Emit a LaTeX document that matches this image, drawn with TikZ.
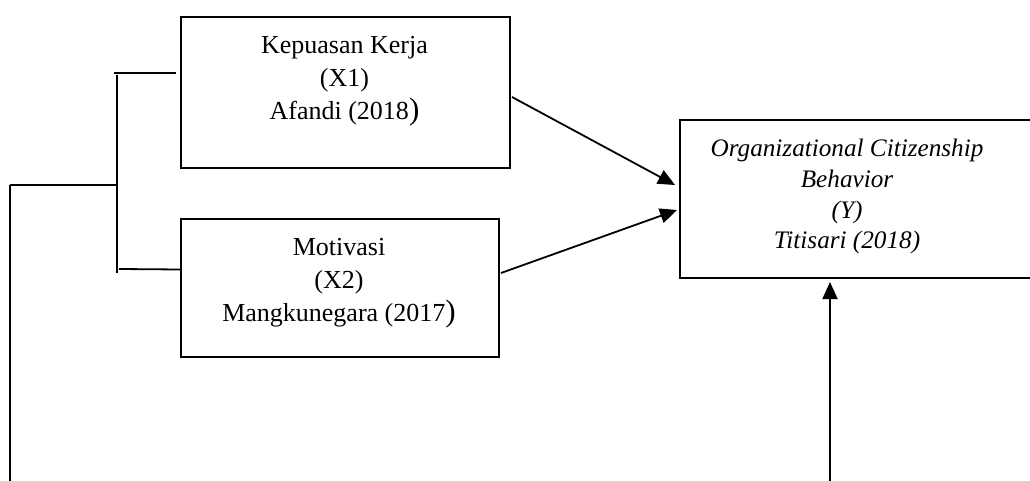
\documentclass[tikz,border=0pt]{standalone}
\usepackage{fontspec}
\setmainfont{Liberation Serif}
\usetikzlibrary{arrows.meta}
\begin{document}
\begin{tikzpicture}[x=1pt,y=-1pt,
  line width=1.8pt,
  box/.style={draw=black, line width=1.8pt, rectangle, inner sep=0pt, anchor=north west},
  txt/.style={align=center, inner sep=0pt, anchor=north, font=\fontsize{26}{33}\selectfont},
  itxt/.style={align=center, inner sep=0pt, anchor=north, font=\fontsize{25.2}{30.7}\selectfont\itshape},
  arr/.style={-{Triangle[length=17pt,width=15pt]}, line width=1.8pt}]
\useasboundingbox (0,0) rectangle (1030,481);
% boxes
\node[box, minimum width=329pt, minimum height=151pt] (x1) at (180,16) {};
\node[box, minimum width=318pt, minimum height=138pt] (x2) at (180,218) {};
\node[box, minimum width=370pt, minimum height=158pt] (y) at (679,119) {};
% texts
\node[txt] (t1) at (344.5,35) {Kepuasan Kerja\\(X1)\\Afandi (2018{\fontsize{31}{33}\selectfont )}};
\node[txt] (t2) at (339,237) {Motivasi\\(X2)\\Mangkunegara (2017{\fontsize{31}{33}\selectfont )}};
\node[itxt] (t3) at (847,138.5) {Organizational Citizenship\\Behavior\\(Y)\\Titisari (2018)};
% bracket
\coordinate (bt) at (117,75);
\coordinate (bb) at (117,273);
\coordinate (bm) at (117,185);
\coordinate (bl) at (10,185);
\coordinate (bld) at (10,481);
\coordinate (t1l) at (114,73);
\coordinate (t1r) at (176,73);
\coordinate (t2l) at (119,269);
\coordinate (t2r) at (180,269.5);
\draw (bt) -- (bb);
\draw (t1l) -- (t1r);
\draw (t2l) -- (t2r);
\draw (bl |- bm) -- (bm);
\draw (bl) -- (bld);
% arrows
\coordinate (a1s) at (512,97);
\coordinate (a1e) at (675,185);
\coordinate (a2s) at (501,273);
\coordinate (a2e) at (677,210);
\coordinate (a3s) at (830,481);
\coordinate (a3e) at (830,282);
\draw[arr] (a1s) -- (a1e);
\draw[arr] (a2s) -- (a2e);
\draw[arr] (a3s) -- (a3e);
\end{tikzpicture}
\end{document}
